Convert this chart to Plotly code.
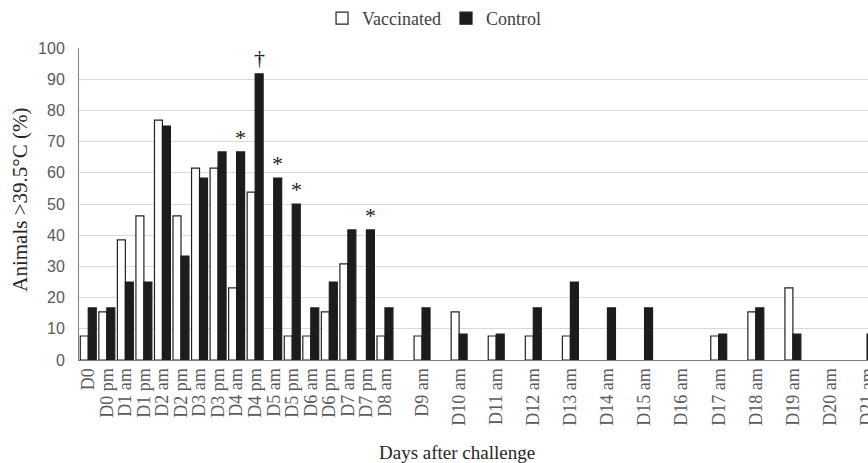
import plotly.graph_objects as go

# Sampling points after challenge (pm readings only recorded up to D7)
categories = ["D0", "D0 pm", "D1 am", "D1 pm", "D2 am", "D2 pm", "D3 am", "D3 pm",
              "D4 am", "D4 pm", "D5 am", "D5 pm", "D6 am", "D6 pm", "D7 am", "D7 pm",
              "D8 am", "D9 am", "D10 am", "D11 am", "D12 am", "D13 am", "D14 am",
              "D15 am", "D16 am", "D17 am", "D18 am", "D19 am", "D20 am", "D21 am"]

# Percentage of animals with rectal temperature > 39.5 °C
vaccinated = [7.7, 15.4, 38.5, 46.2, 76.9, 46.2, 61.5, 61.5, 23.1, 53.8, 0, 7.7,
              7.7, 15.4, 30.8, 0, 7.7, 7.7, 15.4, 7.7, 7.7, 7.7, 0, 0, 0, 7.7,
              15.4, 23.1, 0, 0]
control = [16.7, 16.7, 25.0, 25.0, 75.0, 33.3, 58.3, 66.7, 66.7, 91.7, 58.3, 50.0,
           16.7, 25.0, 41.7, 41.7, 16.7, 16.7, 8.3, 8.3, 16.7, 25.0, 16.7, 16.7,
           0, 8.3, 16.7, 8.3, 0, 8.3]

# Significance markers placed above the control bars
markers = {"D4 am": "*", "D4 pm": "\u2020", "D5 am": "*", "D5 pm": "*", "D7 pm": "*"}

# Slot on the time axis: half-day steps through D8 am, then one am slot per day
# with the (unsampled) pm slot left empty
slots = [i if i <= 16 else 16 + 2 * (i - 16) for i in range(len(categories))]

SERIF = "Liberation Serif"
BAR_W = 0.43


def outline(values):
    # no outline on empty bars so nothing is drawn along the axis
    return [1.2 if v > 0 else 0 for v in values]


fig = go.Figure()
fig.add_trace(go.Bar(
    name="Vaccinated", x=slots, y=vaccinated, width=BAR_W, offset=-BAR_W,
    marker=dict(color="white", line=dict(color="#222222", width=outline(vaccinated))),
))
fig.add_trace(go.Bar(
    name="Control", x=slots, y=control, width=BAR_W, offset=0,
    marker=dict(color="#1c1c1c", line=dict(color="#1c1c1c", width=outline(control))),
))

annotations = []
for cat, sym in markers.items():
    i = categories.index(cat)
    annotations.append(dict(
        x=slots[i] + BAR_W / 2, y=control[i], xref="x", yref="y",
        text=sym, showarrow=False, yanchor="bottom",
        yshift=2 if sym != "*" else 0,
        font=dict(family=SERIF, size=22, color="#1a1a1a"),
    ))

annotations.append(dict(
    text="Animals >39.5\u00b0C (%)", xref="paper", yref="paper",
    x=-0.075, y=0.513, textangle=-90, showarrow=False,
    xanchor="center", yanchor="middle",
    font=dict(family=SERIF, size=21, color="#262626"),
))
annotations.append(dict(
    text="Days after challenge", xref="paper", yref="paper",
    x=0.479, y=-0.295, showarrow=False, xanchor="center", yanchor="middle",
    font=dict(family=SERIF, size=19, color="#262626"),
))

fig.update_layout(
    width=868, height=463,
    margin=dict(l=79, r=0, t=48, b=103),
    plot_bgcolor="white", paper_bgcolor="white",
    barmode="overlay",
    showlegend=True,
    legend=dict(orientation="h", x=0.45, xanchor="center", y=1.096, yanchor="middle",
                font=dict(family=SERIF, size=18, color="#404040"),
                itemwidth=30, tracegroupgap=0, bgcolor="rgba(0,0,0,0)"),
    annotations=annotations,
    xaxis=dict(
        range=[-0.5, 42.05], tickmode="array", tickvals=slots, ticktext=categories,
        tickangle=-90, tickfont=dict(family=SERIF, size=18, color="#595959"),
        ticklabeloverflow="allow", automargin=False,
        showgrid=False, zeroline=False, showline=True, linecolor="#7f7f7f",
        linewidth=1, ticks="",
    ),
    yaxis=dict(
        range=[0, 100], dtick=10, tick0=0, automargin=False,
        tickfont=dict(family="Liberation Sans", size=16, color="#595959"),
        gridcolor="#d9d9d9", gridwidth=1, zeroline=False,
        showline=True, linecolor="#7f7f7f", linewidth=1, ticks="",
        ticklabelstandoff=10,
    ),
)

fig.write_html("out.html")
